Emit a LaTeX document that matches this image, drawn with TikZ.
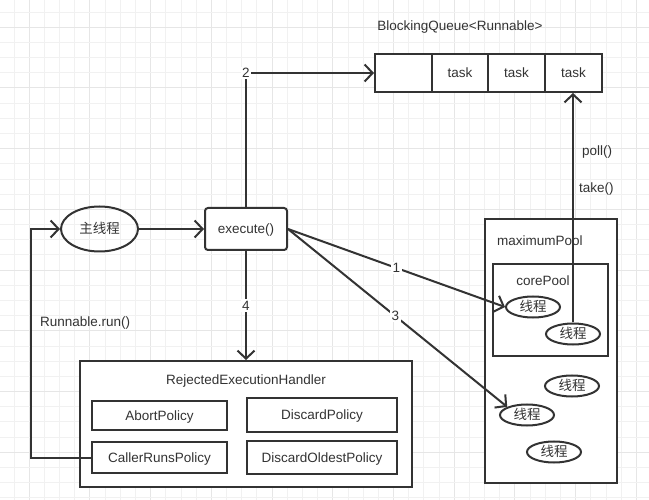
\documentclass[tikz,border=0pt]{standalone}
\usepackage{fontspec}
\setmainfont{Liberation Sans}
\newfontfamily\cjk{Noto Sans CJK SC}
\usetikzlibrary{arrows.meta,shapes.geometric}
\definecolor{ink}{HTML}{333333}
\definecolor{gridminor}{HTML}{F1F1F1}
\definecolor{gridmajor}{HTML}{E6E6E6}
\begin{document}
\begin{tikzpicture}[x=1pt,y=-1pt,
  every node/.style={font=\fontsize{13.5}{15}\selectfont, text=ink, text height=9.6pt, text depth=0pt},
  box/.style={draw=ink, line width=2pt, rectangle, inner sep=0pt, fill=white},
  thread/.style={draw=ink, line width=2pt, ellipse, inner sep=0pt, fill=white,
    minimum width=54pt, minimum height=21pt, font=\cjk\fontsize{13.5}{15}\selectfont},
  conn/.style={draw=ink, line width=2pt},
  arr/.style={conn, -{Straight Barb[length=8pt,width=17pt]}},
  lbl/.style={fill=white, inner sep=1.5pt},
  plain/.style={anchor=west, inner xsep=0pt},
]
% background and grid
\fill[white] (0,0) rectangle (649,500);
\useasboundingbox (0,0) rectangle (649,500);
\foreach \k in {-1,...,42} {
  \pgfmathsetmacro\xx{14+15.18*\k}
  \pgfmathtruncatemacro\mm{mod(\k+7,4)}
  \ifnum\mm=0
    \draw[gridmajor, line width=1pt] (\xx,0) -- (\xx,500);
  \else
    \draw[gridminor, line width=0.8pt] (\xx,0) -- (\xx,500);
  \fi
}
\foreach \k in {-1,...,33} {
  \pgfmathsetmacro\yy{12+15.18*\k}
  \pgfmathtruncatemacro\mm{mod(\k+7,4)}
  \ifnum\mm=0
    \draw[gridmajor, line width=1pt] (0,\yy) -- (649,\yy);
  \else
    \draw[gridminor, line width=0.8pt] (0,\yy) -- (649,\yy);
  \fi
}

% queue
\node (qtitle) at (460,26) {BlockingQueue<Runnable>};
\node[box, minimum width=57pt, minimum height=38pt] (q0) at (403.5,73) {};
\node[box, minimum width=56pt, minimum height=38pt] (q1) at (460,73) {task};
\node[box, minimum width=57pt, minimum height=38pt] (q2) at (516.5,73) {task};
\node[box, minimum width=57pt, minimum height=38pt] (q3) at (573.5,73) {task};

% main thread and execute
\node[draw=ink, line width=2pt, ellipse, inner sep=0pt, minimum width=77pt, minimum height=45pt,
  font=\cjk\fontsize{13.5}{15}\selectfont] (main) at (99.5,229) {主线程};
\node[box, rounded corners=3pt, minimum width=82pt, minimum height=42pt] (exec) at (246,229) {execute()};

% pools
\node[box, minimum width=132pt, minimum height=264pt] (maxpool) at (551,351) {};
\node[plain] (maxlbl) at (497,241) {maximumPool};
\node[box, minimum width=115pt, minimum height=92pt] (corepool) at (550.5,310) {};
\node (corelbl) at (543,281) {corePool};
\node[thread] (th1) at (533,307) {线程};
\node[thread] (th2) at (573,334) {线程};
\node[thread] (th3) at (572,386) {线程};
\node[thread] (th4) at (527,415) {线程};
\node[thread] (th5) at (554,452) {线程};

% rejected handler
\node[box, minimum width=332pt, minimum height=126pt] (reh) at (246,424) {};
\node (rehlbl) at (246,380) {RejectedExecutionHandler};
\node[box, minimum width=135pt, minimum height=29pt] (abort) at (159.5,415.5) {AbortPolicy};
\node[box, minimum width=150pt, minimum height=34pt] (discard) at (322,415) {DiscardPolicy};
\node[box, minimum width=135pt, minimum height=31pt] (crp) at (159.5,457.5) {CallerRunsPolicy};
\node[box, minimum width=150pt, minimum height=33pt] (dop) at (322,457.5) {DiscardOldestPolicy};

% connectors
\draw[arr] (main.east) -- (exec.west);
\coordinate (c2) at (246,73);
\draw[arr] (exec.north) -- (c2) -- (q0.west);
\node[lbl] (l2) at (c2) {2};
\draw[arr] (exec.south) -- node[lbl] (l4) {4} (reh.north);
\draw[arr] (exec.east) -- node[lbl, pos=0.5] (l1) {1} (th1.west);
\draw[arr] (exec.east) -- node[lbl, pos=0.49] (l3) {3} (th4.north west);
\draw[arr] (th2.north) -- (th2.north |- q3.south);
\node[plain] (poll) at (582,151) {poll()};
\node[plain] (take) at (579,188) {take()};
\coordinate (lcorner) at (31,229);
\draw[arr] (crp.west) -| (lcorner) -- (main.west);
\node[plain] (run) at (40,322) {Runnable.run()};
\end{tikzpicture}
\end{document}
